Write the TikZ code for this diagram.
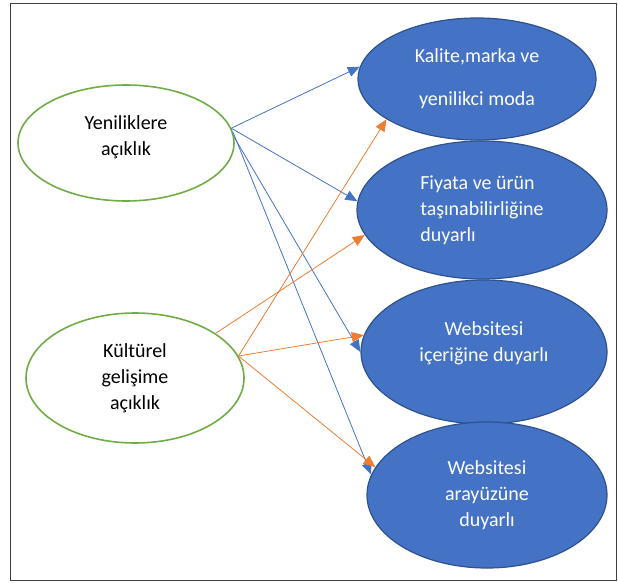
\documentclass[tikz,border=0pt]{standalone}
\usepackage{fontspec}
\setmainfont{Carlito}
\usetikzlibrary{arrows.meta,shapes.geometric}
\definecolor{accblue}{HTML}{4472C4}
\definecolor{edgeblue}{HTML}{2F528F}
\definecolor{accgreen}{HTML}{70AD47}
\definecolor{accorange}{HTML}{ED7D31}
\begin{document}
\begin{tikzpicture}[x=1pt,y=-1pt,
 trait/.style={ellipse,draw=accgreen,line width=1.6pt,fill=white,align=center,
 inner sep=0pt,font=\fontsize{20}{26}\selectfont},
 sens/.style={ellipse,draw=edgeblue,line width=1.2pt,fill=accblue,text=white,
 align=center,inner sep=0pt,font=\fontsize{20}{26}\selectfont},
 barr/.style={-{Triangle[length=12pt,width=10pt]},draw=accblue,line width=0.8pt},
 oarr/.style={-{Triangle[length=12pt,width=10pt]},draw=accorange,line width=0.8pt}]
\useasboundingbox (0,0) rectangle (618,583);
\draw[draw=black!75,line width=1pt] (10,3.5) rectangle (616,580.5);
\node[trait,minimum width=216pt,minimum height=116pt] (yen) at (126,143)
 {Yeniliklere\\açıklık\\[-18pt]\strut};
\node[trait,minimum width=218pt,minimum height=130pt] (kul) at (135,378)
 {Kültürel\\gelişime\\açıklık};
\node[sens,minimum width=238pt,minimum height=122pt] (kal) at (477,79)
 {Kalite,marka ve\\[17pt]yenilikci moda};
\node[sens,minimum width=250pt,minimum height=138pt,align=left] (fiy) at (482,210)
 {Fiyata ve ürün\\taşınabilirliğine\\duyarlı\hspace*{6pt}};
\node[sens,minimum width=246pt,minimum height=144pt] (ici) at (484,352)
 {Websitesi\\içeriğine duyarlı\\[-12pt]\strut};
\node[sens,minimum width=240pt,minimum height=146pt] (ara) at (487,495)
 {Websitesi\\arayüzüne\\duyarlı};
% Yeniliklere
\draw[barr] (yen.8)--(kal.174);
\draw[barr] (yen.8)--(fiy.176);
\draw[barr] (yen.3)--(ici.180);
\draw[barr] (yen.6)--(ara.170);
% Kültürel
\draw[oarr] (kul.29)--(fiy.192);
\draw[oarr] (kul.12)--(kal.204);
\draw[oarr] (kul.12)--(ici.172);
\draw[oarr] (kul.12)--(ara.166);
\end{tikzpicture}
\end{document}
